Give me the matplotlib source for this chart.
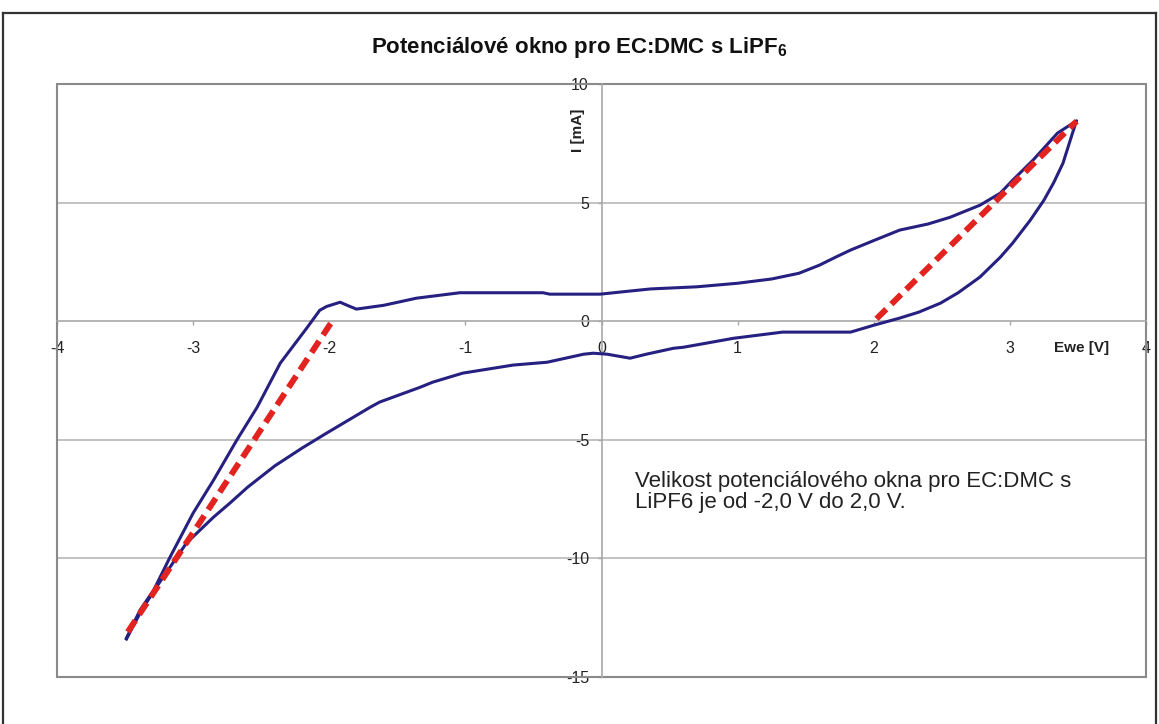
import matplotlib
matplotlib.use("Agg")
import matplotlib.pyplot as plt
from matplotlib.lines import Line2D
from matplotlib.patches import Rectangle

plt.rcParams['font.family'] = ['Liberation Sans', 'DejaVu Sans']
plt.rcParams['mathtext.fontset'] = 'custom'
plt.rcParams['mathtext.rm'] = 'Liberation Sans'
plt.rcParams['mathtext.bf'] = 'Liberation Sans:bold'

# ---- data ----
title = "Potenciálové okno pro EC:DMC s LiPF$_{\\mathbf{6}}$"
x_label = "Ewe [V]"
y_label = "I [mA]"
note = "Velikost potenciálového okna pro EC:DMC s\nLiPF6 je od -2,0 V do 2,0 V."
x_ticks = [-4, -3, -2, -1, 0, 1, 2, 3, 4]
y_ticks = [-15, -10, -5, 0, 5, 10]

# forward (upper) branch of the voltammogram
fwd_E = [-3.49, -3.39, -3.29, -3.17, -3.00, -2.85, -2.68, -2.53, -2.36, -2.16,
         -2.07, -2.02, -1.92, -1.86, -1.80, -1.60, -1.36, -1.04, -0.43, -0.38, -0.01,
         0.19, 0.36, 0.70, 1.00, 1.25, 1.45, 1.60, 1.72, 1.83, 2.00, 2.19, 2.40,
         2.56, 2.78, 2.93, 3.02, 3.17, 3.35, 3.49]
fwd_I = [-13.36, -12.18, -11.34, -9.95, -8.09, -6.70, -5.02, -3.63, -1.77, -0.25,
         0.46, 0.62, 0.80, 0.65, 0.51, 0.67, 0.97, 1.20, 1.20, 1.14, 1.14,
         1.26, 1.36, 1.45, 1.60, 1.78, 2.02, 2.36, 2.70, 3.00, 3.40, 3.84, 4.10,
         4.38, 4.89, 5.40, 5.94, 6.79, 7.93, 8.45]
# reverse (lower) branch
rev_E = [3.49, 3.46, 3.39, 3.32, 3.25, 3.15, 3.02, 2.93, 2.78, 2.62, 2.49, 2.33, 2.19,
         2.00, 1.83, 1.33, 0.97, 0.60, 0.53, 0.33, 0.21, 0.04, -0.06, -0.13,
         -0.40, -0.65, -1.02, -1.24, -1.33, -1.63, -1.70, -2.02, -2.20, -2.40,
         -2.60, -2.73, -2.85, -2.95, -3.05, -3.17, -3.27, -3.38, -3.49]
rev_I = [8.45, 7.93, 6.66, 5.82, 5.10, 4.26, 3.29, 2.70, 1.86, 1.20, 0.76, 0.38, 0.13,
         -0.17, -0.46, -0.46, -0.72, -1.10, -1.14, -1.39, -1.56, -1.39, -1.35, -1.39,
         -1.73, -1.85, -2.19, -2.57, -2.78, -3.41, -3.63, -4.72, -5.35, -6.10,
         -7.00, -7.67, -8.26, -8.81, -9.36, -10.37, -11.21, -12.20, -13.40]

# tangent lines marking the potential window
cath_E = [-3.48, -1.99]
cath_I = [-13.1, -0.1]
anod_E = [2.02, 3.49]
anod_I = [0.10, 8.43]

# ---- figure ----
W, H = 1159, 724
fig = plt.figure(figsize=(W / 100, H / 100), dpi=100)
fig.patch.set_facecolor('white')

def fx(px):
    return px / W

def fy(py):
    return 1 - py / H

# outer chart border
for xs, ys in [([3, 3], [13, 724]), ([3, 1156], [13, 13]), ([1156, 1156], [13, 724])]:
    fig.add_artist(Line2D([fx(v) for v in xs], [fy(v) for v in ys],
                          color='#333333', lw=1.6, transform=fig.transFigure))

ax = fig.add_axes([fx(57), fy(677), fx(1146) - fx(57), fy(84) - fy(677)])
ax.set_xlim(-4, 4)
ax.set_ylim(-15, 10)

# gridlines
for yv in [5, -5, -10]:
    ax.axhline(yv, color='#b8b8b8', lw=1.2, zorder=1)

# spines through origin
for s in ['top', 'right']:
    ax.spines[s].set_visible(False)
ax.spines['left'].set_position(('data', 0))
ax.spines['bottom'].set_position(('data', 0))
ax.spines['left'].set_color('#a8a8a8')
ax.spines['bottom'].set_color('#a8a8a8')
ax.spines['left'].set_linewidth(1.2)
ax.spines['bottom'].set_linewidth(1.2)
ax.add_patch(Rectangle((0, 0), 1, 1, transform=ax.transAxes, fill=False,
                       edgecolor='#8a8a8a', lw=1.5, zorder=2, clip_on=False))

ax.set_xticks(x_ticks)
ax.set_yticks(y_ticks)
ax.set_xticklabels([str(v) for v in x_ticks])
ax.set_yticklabels([str(v) for v in y_ticks])
ax.tick_params(axis='x', direction='out', length=3, width=1, color='#a8a8a8',
               labelsize=11.5, pad=11, labelcolor='#222222')
ax.tick_params(axis='y', direction='out', length=3, width=1, color='#a8a8a8',
               labelsize=11.5, pad=6, labelcolor='#222222')

# data
cv_E = fwd_E + rev_E
cv_I = fwd_I + rev_I
ax.plot(cv_E, cv_I, color='#262080', lw=2.2, zorder=3, solid_joinstyle='round')
for E, I in [(cath_E, cath_I), (anod_E, anod_I)]:
    ax.plot(E, I, color='#e3231f', lw=4.3, dashes=(2.3, 1.2),
            dash_capstyle='butt', zorder=4)

# texts
fig.text(0.5, fy(47), title, ha='center', va='center', fontsize=16,
         fontweight='bold', color='#111111')
ax.text(3.53, -1.14, x_label, ha='center', va='center', fontsize=11,
        fontweight='bold', color='#222222')
ax.text(-0.17, 8.05, y_label, ha='center', va='center', fontsize=11,
        fontweight='bold', rotation=90, color='#222222')
ax.text(0.246, -7.2, note, ha='left', va='center', fontsize=16,
        linespacing=1.05, color='#222222')

fig.savefig('out.png', dpi=100, facecolor='white')
